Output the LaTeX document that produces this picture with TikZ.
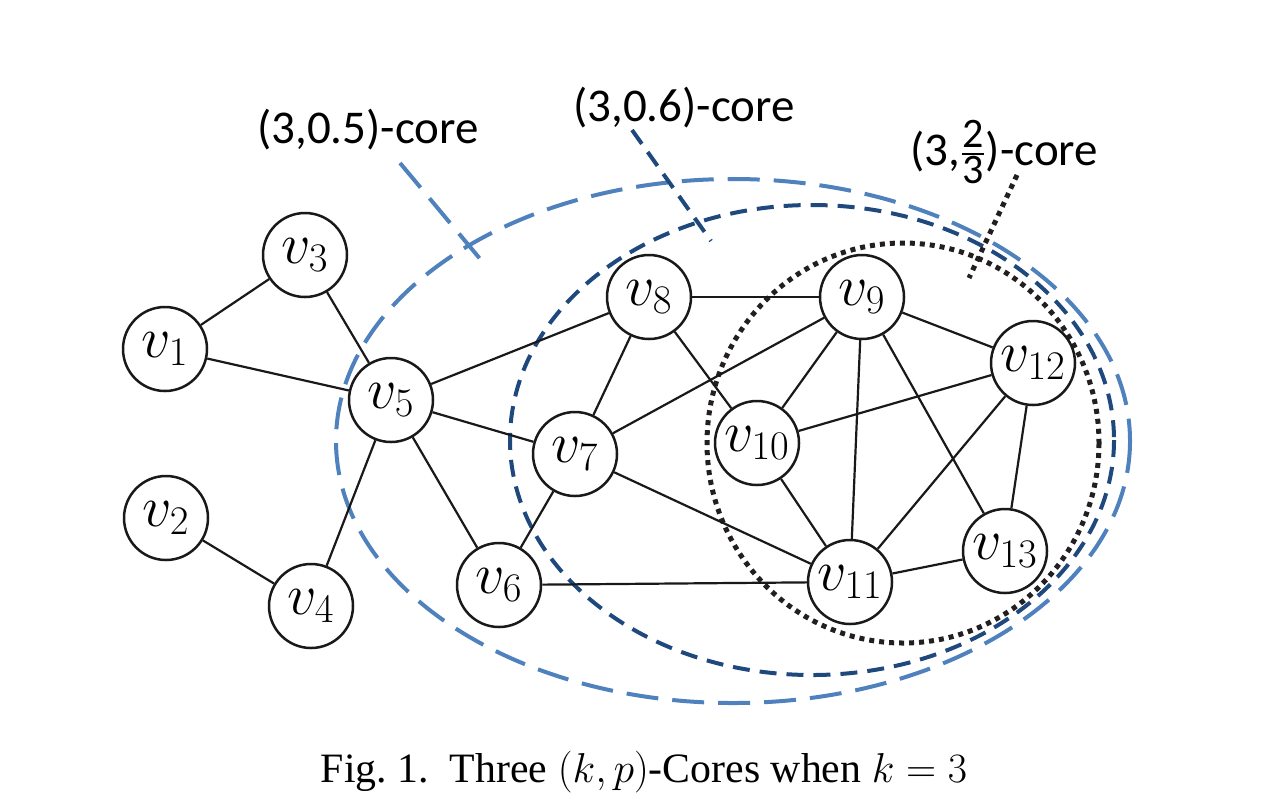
\RequirePackage{fix-cm}
\documentclass[tikz,border=0pt]{standalone}
\usepackage{fontspec}
\newfontfamily\labfont{Carlito}
\newfontfamily\capfont{Liberation Serif}
\definecolor{lblue}{HTML}{4F81BD}
\definecolor{dblue}{HTML}{1F497D}
\definecolor{dotc}{HTML}{231F20}
\newcommand\fracdig[1]{\hbox{\labfont\fontsize{21}{22}\selectfont #1}}
\begin{document}
\begin{tikzpicture}[x=0.5pt,y=-0.5pt,
  vert/.style={circle,draw=black!90,line width=1.25pt,fill=white,minimum size=42pt,inner sep=0pt,font=\fontsize{29}{32}\selectfont},
  edge/.style={line width=1.1pt,draw=black!90},
  corea/.style={draw=lblue,line width=2pt,dash pattern=on 16pt off 7pt},
  coreb/.style={draw=dblue,line width=2pt,dash pattern=on 8.5pt off 5pt},
  corec/.style={draw=dotc,line width=2.5pt,dash pattern=on 2.5pt off 2.5pt},
  lab/.style={font=\labfont\fontsize{23.5}{27}\selectfont,inner sep=0pt}]
\useasboundingbox (0,0) rectangle (1288,810);
% core ellipses
\draw[corea] (733,441) ellipse [x radius=397, y radius=262];
\draw[coreb] (812,440) ellipse [x radius=302, y radius=235];
\draw[corec] (903,443) ellipse [x radius=196, y radius=200];
% labels and pointers
\node[lab] (la) at (368,130) {(3,0.5)-core};
\node[lab] (lb) at (684,108) {(3,0.6)-core};
\node[lab] (lc) at (1004,152) {(3,$\fracdig{2}\above0.8pt\fracdig{3}$)-core};
\coordinate (pa1) at (400,163);
\coordinate (pa2) at (481,260);
\coordinate (pb1) at (632,130);
\coordinate (pb2) at (711,241);
\coordinate (pc1) at (1017,175);
\coordinate (pc2) at (969,278);
\draw[corea] (pa1) -- (pa2);
\draw[coreb] (pb1) -- (pb2);
\draw[corec] (pc1) -- (pc2);
% vertices
\node[vert] (v1) at (165,349) {$v_1$};
\node[vert] (v2) at (166,518) {$v_2$};
\node[vert] (v3) at (305,255) {$v_3$};
\node[vert] (v4) at (311,606) {$v_4$};
\node[vert] (v5) at (391,400) {$v_5$};
\node[vert] (v6) at (499,585) {$v_6$};
\node[vert] (v7) at (575,454) {$v_7$};
\node[vert] (v8) at (649,297) {$v_8$};
\node[vert] (v9) at (862,297) {$v_9$};
\node[vert] (v10) at (757,443) {$v_{10}$};
\node[vert] (v11) at (850,582) {$v_{11}$};
\node[vert] (v12) at (1033,363) {$v_{12}$};
\node[vert] (v13) at (1005,551) {$v_{13}$};
% edges
\foreach \a/\b in {v1/v3,v1/v5,v3/v5,v2/v4,v4/v5,v5/v6,v5/v7,v5/v8,v8/v7,v8/v9,v8/v10,v7/v9,v7/v6,v7/v11,v6/v11,v9/v10,v9/v11,v9/v12,v9/v13,v10/v12,v10/v11,v11/v12,v11/v13,v12/v13}
  \draw[edge] (\a) -- (\b);
% caption
\node[font=\capfont\fontsize{20.9}{25}\selectfont,inner sep=0pt] (cap) at (644,772) {Fig.~1.\enspace Three $(k,p)$-Cores when $k=3$};
\end{tikzpicture}
\end{document}
